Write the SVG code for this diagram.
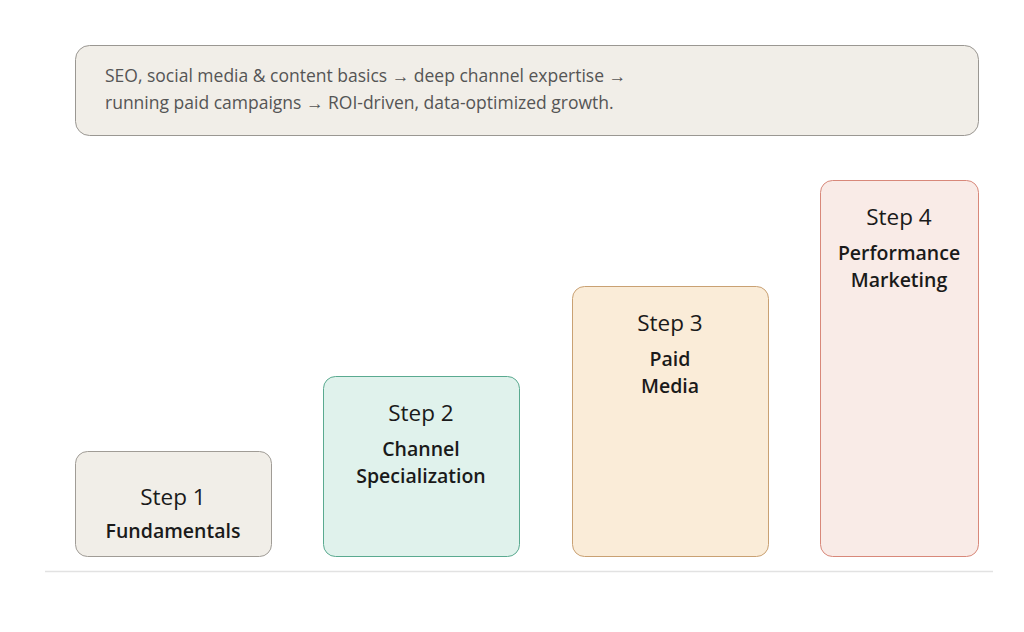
<svg xmlns="http://www.w3.org/2000/svg" width="1024" height="632" viewBox="0 0 1024 632">
<style>
.t{font-family:"Open Sans","Noto Sans","Liberation Sans",sans-serif;fill:#1a1a1a;text-anchor:middle}
.step{font-size:22.5px;font-weight:400}
.name{font-size:19.5px;font-weight:600}
.desc{font-family:"Open Sans","Noto Sans","Liberation Sans",sans-serif;font-size:17.5px;fill:#555}
</style>
<rect width="1024" height="632" fill="#ffffff"/>
<g id="summary">
<rect x="75.5" y="45.5" width="903" height="90" rx="14" fill="#f1eee8" stroke="#9a9792"/>
<text class="desc" x="105" y="82">SEO, social media &amp; content basics → deep channel expertise →</text>
<text class="desc" x="105" y="109">running paid campaigns → ROI-driven, data-optimized growth.</text>
</g>
<g id="connectors">
<line x1="45" y1="571.5" x2="993" y2="571.5" stroke="#e2e2e2" stroke-width="1.5"/>
</g>
<g id="step1">
<rect x="75.5" y="451.5" width="196" height="105" rx="12" fill="#f1eee8" stroke="#a09c96"/>
<text class="t step" x="173" y="505">Step 1</text>
<text class="t name" x="173" y="538">Fundamentals</text>
</g>
<g id="step2">
<rect x="323.5" y="376.5" width="196" height="180" rx="12" fill="#e0f2ec" stroke="#5aaa90"/>
<text class="t step" x="421" y="421">Step 2</text>
<text class="t name" x="421" y="456">Channel</text>
<text class="t name" x="421" y="483">Specialization</text>
</g>
<g id="step3">
<rect x="572.5" y="286.5" width="196" height="270" rx="12" fill="#faecd8" stroke="#c9a173"/>
<text class="t step" x="670" y="331">Step 3</text>
<text class="t name" x="670" y="366">Paid</text>
<text class="t name" x="670" y="393">Media</text>
</g>
<g id="step4">
<rect x="820.5" y="180.5" width="158" height="376" rx="12" fill="#f9ebe7" stroke="#d8887a"/>
<text class="t step" x="899" y="225">Step 4</text>
<text class="t name" x="899" y="260">Performance</text>
<text class="t name" x="899" y="287">Marketing</text>
</g>
</svg>
